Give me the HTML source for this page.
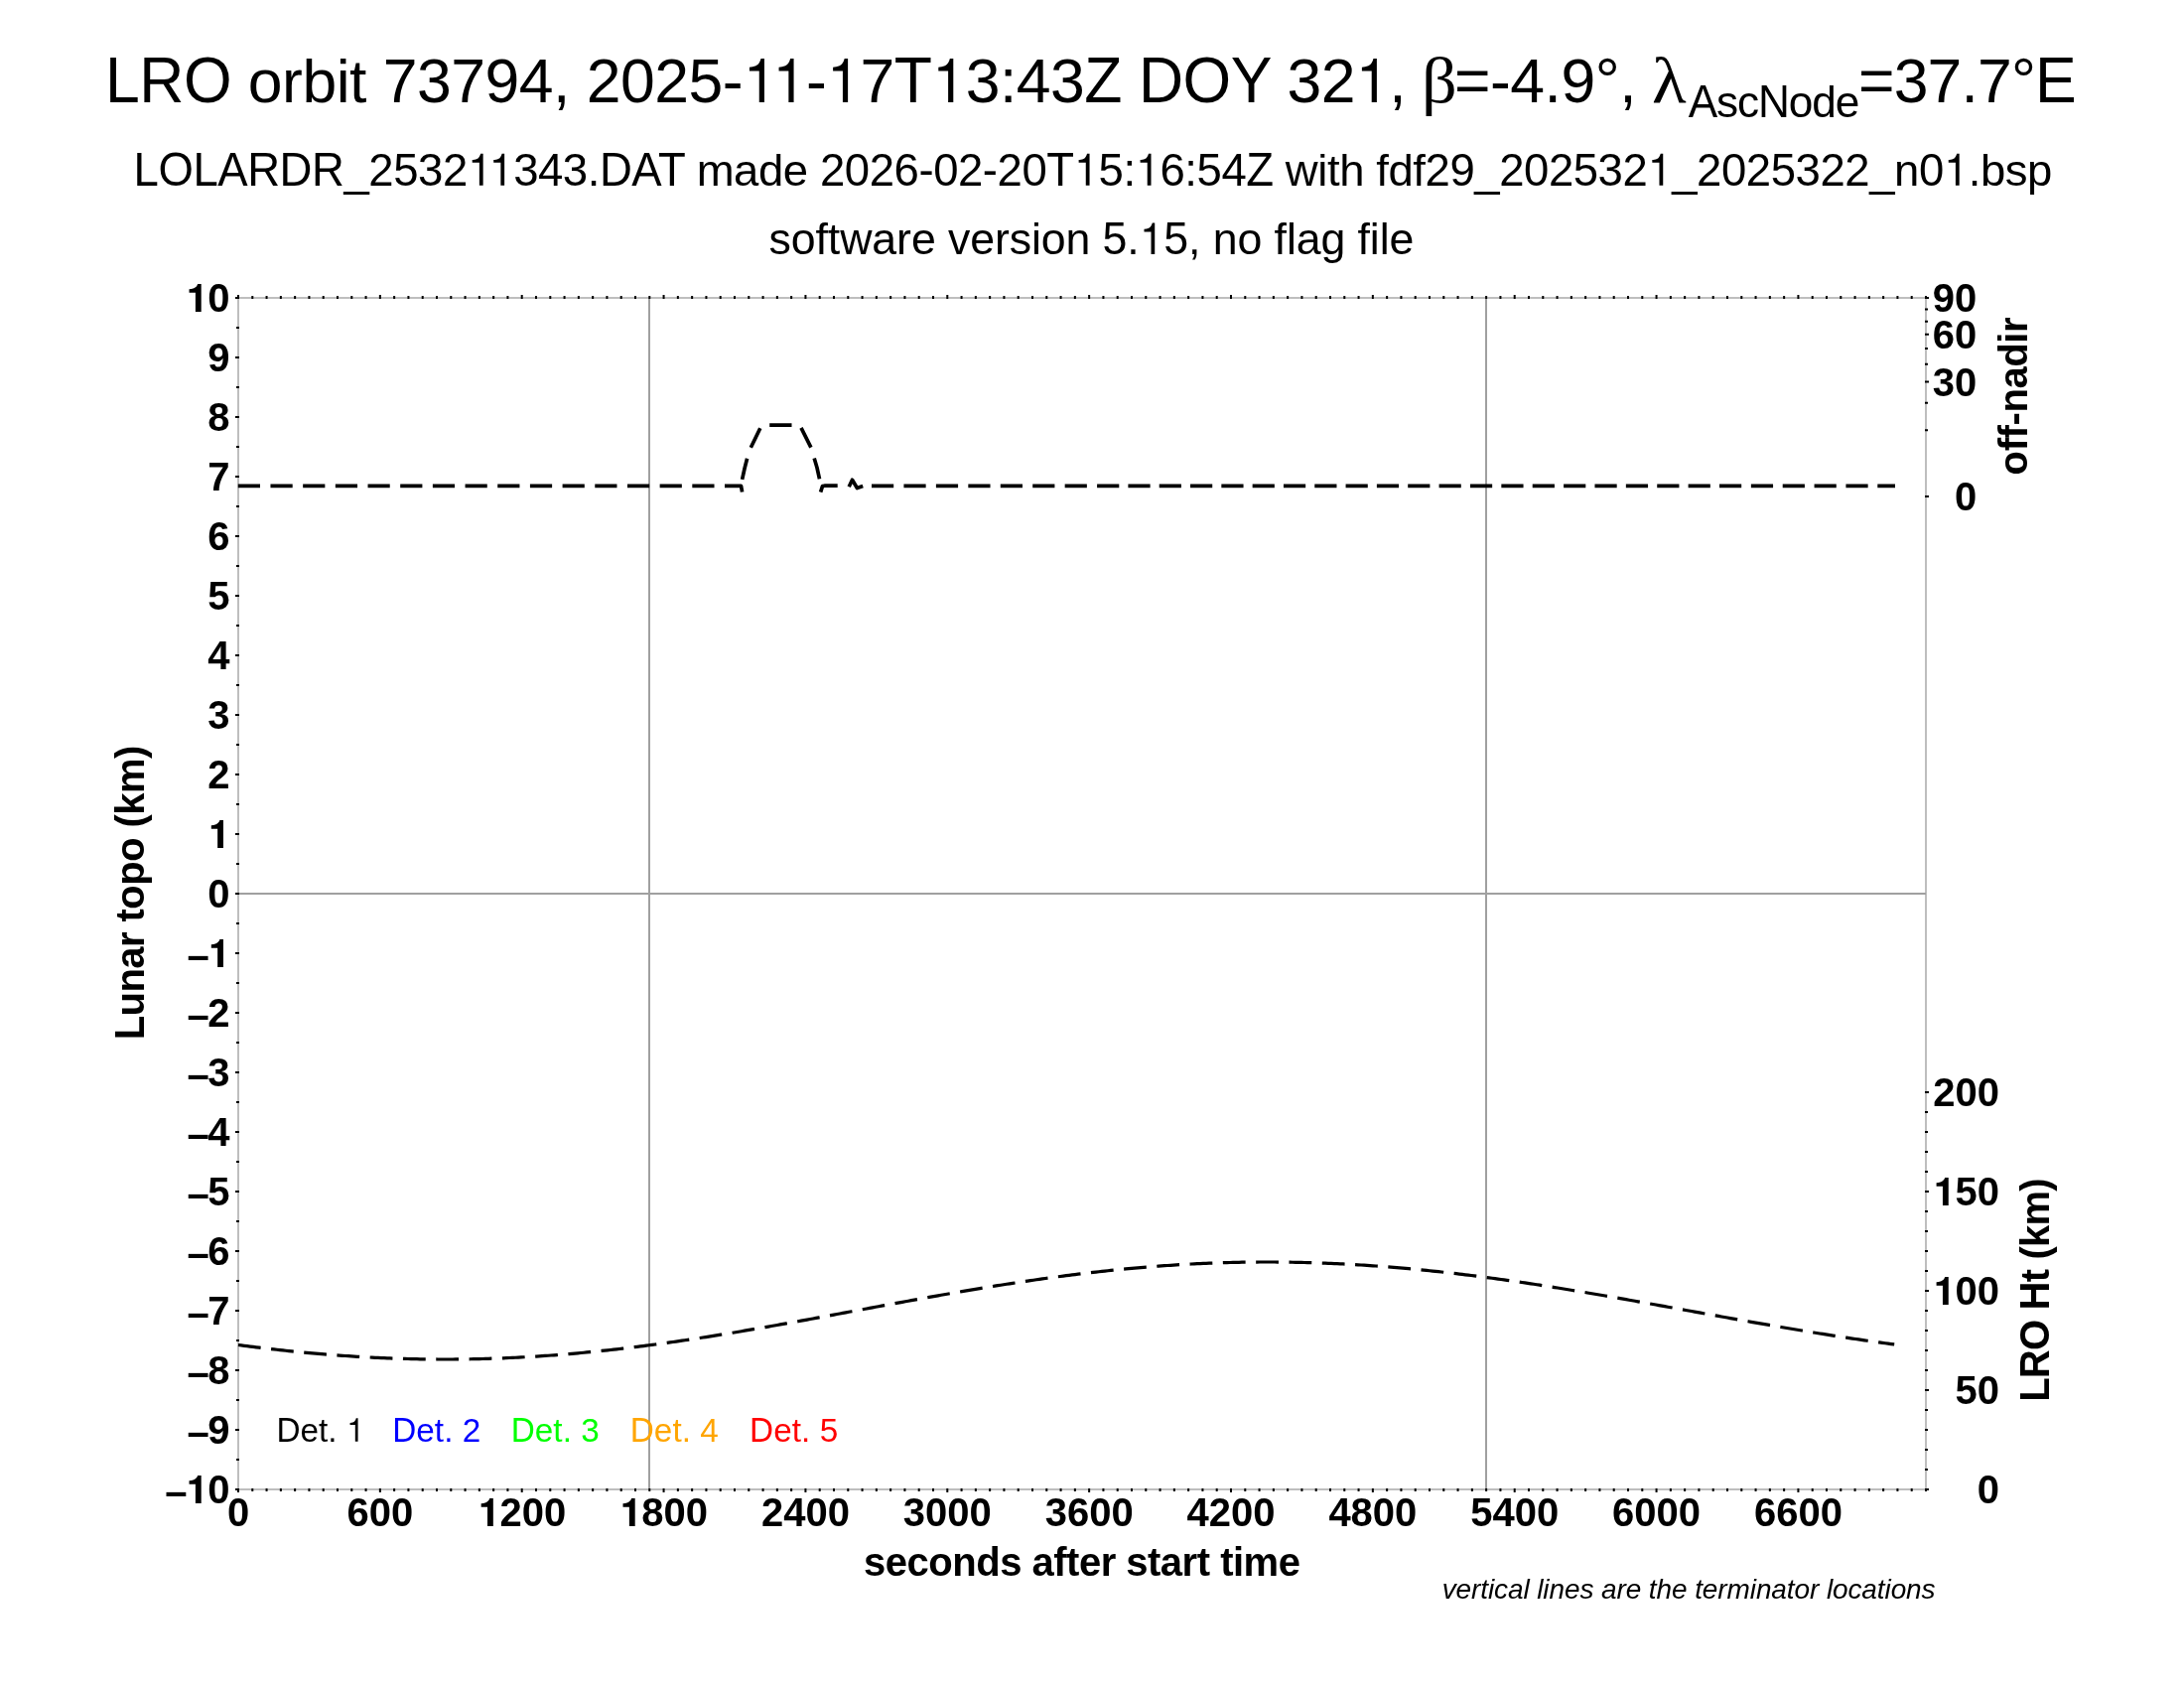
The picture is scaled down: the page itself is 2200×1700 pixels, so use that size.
<!DOCTYPE html>
<html><head><meta charset="utf-8"><style>
html,body{margin:0;padding:0;background:#fff;width:2200px;height:1700px;overflow:hidden}
svg{display:block;will-change:transform}

</style></head><body>
<svg width="2200" height="1700" viewBox="0 0 2200 1700" font-family="Liberation Sans">
<rect width="2200" height="1700" fill="#fff"/>
<g>
<text transform="translate(106.00,103.00) scale(1.0000,1.0440)" x="0.000" font-size="62.5" letter-spacing="-0.500">LRO</text><text transform="translate(106.00,103.00) scale(1.0000,0.9900)" x="143.857" font-size="62.5" letter-spacing="-0.500">orbit</text><text transform="translate(106.00,103.00) scale(1.0000,1.0200)" x="279.788" font-size="62.5" letter-spacing="-0.500">73794</text><text transform="translate(106.00,103.00)" x="451.059" font-size="62.5" letter-spacing="-0.500">,</text><text transform="translate(106.00,103.00) scale(1.0000,1.0200)" x="484.784" font-size="62.5" letter-spacing="-0.500">2025</text><text transform="translate(106.00,103.00)" x="621.807" font-size="62.5" letter-spacing="-0.500">-</text><path transform="translate(106.00,103.00) translate(642.125,0.000) scale(0.06250,-0.06250)" d="M349,0V706H294C282,660 260,610 214,589C180,574 140,568 109,566V504H266V0Z"/><path transform="translate(106.00,103.00) translate(671.740,0.000) scale(0.06250,-0.06250)" d="M349,0V706H294C282,660 260,610 214,589C180,574 140,568 109,566V504H266V0Z"/><text transform="translate(106.00,103.00)" x="705.988" font-size="62.5" letter-spacing="-0.500">-</text><path transform="translate(106.00,103.00) translate(726.306,0.000) scale(0.06250,-0.06250)" d="M349,0V706H294C282,660 260,610 214,589C180,574 140,568 109,566V504H266V0Z"/><text transform="translate(106.00,103.00) scale(1.0000,1.0200)" x="760.554" font-size="62.5" letter-spacing="-0.500">7</text><text transform="translate(106.00,103.00) scale(1.0000,1.0440)" x="794.818" font-size="62.5" letter-spacing="-0.500">T</text><path transform="translate(106.00,103.00) translate(832.483,0.000) scale(0.06250,-0.06250)" d="M349,0V706H294C282,660 260,610 214,589C180,574 140,568 109,566V504H266V0Z"/><text transform="translate(106.00,103.00) scale(1.0000,1.0200)" x="866.746" font-size="62.5" letter-spacing="-0.500">3</text><text transform="translate(106.00,103.00)" x="900.995" font-size="62.5" letter-spacing="-0.500">:</text><text transform="translate(106.00,103.00) scale(1.0000,1.0200)" x="917.865" font-size="62.5" letter-spacing="-0.500">43</text><text transform="translate(106.00,103.00) scale(1.0000,1.0440)" x="986.376" font-size="62.5" letter-spacing="-0.500">Z</text><text transform="translate(106.00,103.00) scale(1.0000,1.0440)" x="1040.912" font-size="62.5" letter-spacing="-0.500">DOY</text><text transform="translate(106.00,103.00) scale(1.0000,1.0200)" x="1190.572" font-size="62.5" letter-spacing="-0.500">32</text><path transform="translate(106.00,103.00) translate(1259.084,0.000) scale(0.06250,-0.06250)" d="M349,0V706H294C282,660 260,610 214,589C180,574 140,568 109,566V504H266V0Z"/><text transform="translate(106.00,103.00)" x="1293.332" font-size="62.5" letter-spacing="-0.500">,</text>
<text transform="translate(1432.00,103.00) scale(1.0800,1.0000)" font-size="65" font-family="Liberation Serif">β</text>
<text transform="translate(1465.00,103.00)" x="0.000" font-size="62.5" letter-spacing="-0.500">=-</text><text transform="translate(1465.00,103.00) scale(1.0000,1.0200)" x="56.305" font-size="62.5" letter-spacing="-0.500">4</text><text transform="translate(1465.00,103.00)" x="90.554" font-size="62.5" letter-spacing="-0.500">.</text><text transform="translate(1465.00,103.00) scale(1.0000,1.0200)" x="107.424" font-size="62.5" letter-spacing="-0.500">9</text><text transform="translate(1465.00,103.00)" x="141.672" font-size="62.5" letter-spacing="-0.500">°,</text>
<text transform="translate(1664.00,103.00) scale(1.1000,1.0000)" font-size="65" font-family="Liberation Serif">λ</text>
<text transform="translate(1700.70,118.40) scale(1.0000,1.0440)" x="0.000" font-size="44.2" letter-spacing="-1.100">A</text><text transform="translate(1700.70,118.40) scale(1.0000,0.9900)" x="28.356" font-size="44.2" letter-spacing="-1.100">sc</text><text transform="translate(1700.70,118.40) scale(1.0000,1.0440)" x="70.340" font-size="44.2" letter-spacing="-1.100">N</text><text transform="translate(1700.70,118.40) scale(1.0000,0.9900)" x="101.155" font-size="44.2" letter-spacing="-1.100">ode</text>
<text transform="translate(1872.00,103.00)" x="0.000" font-size="62.5" letter-spacing="-0.830">=</text><text transform="translate(1872.00,103.00) scale(1.0000,1.0200)" x="35.652" font-size="62.5" letter-spacing="-0.830">37</text><text transform="translate(1872.00,103.00)" x="103.501" font-size="62.5" letter-spacing="-0.830">.</text><text transform="translate(1872.00,103.00) scale(1.0000,1.0200)" x="120.038" font-size="62.5" letter-spacing="-0.830">7</text><text transform="translate(1872.00,103.00)" x="153.954" font-size="62.5" letter-spacing="-0.830">°</text><text transform="translate(1872.00,103.00) scale(1.0000,1.0440)" x="178.122" font-size="62.5" letter-spacing="-0.830">E</text>
<text transform="translate(1100.75,186.75) scale(1.0000,1.0440)" x="-966.200" font-size="45.5" letter-spacing="-0.430">LOLARDR</text><text transform="translate(1100.75,186.75)" x="-754.333" font-size="45.5" letter-spacing="-0.430">_</text><text transform="translate(1100.75,186.75) scale(1.0000,1.0200)" x="-729.474" font-size="45.5" letter-spacing="-0.430">2532</text><path transform="translate(1100.75,186.75) translate(-629.991,0.000) scale(0.04550,-0.04550)" d="M349,0V706H294C282,660 260,610 214,589C180,574 140,568 109,566V504H266V0Z"/><path transform="translate(1100.75,186.75) translate(-608.495,0.000) scale(0.04550,-0.04550)" d="M349,0V706H294C282,660 260,610 214,589C180,574 140,568 109,566V504H266V0Z"/><text transform="translate(1100.75,186.75) scale(1.0000,1.0200)" x="-583.621" font-size="45.5" letter-spacing="-0.430">343</text><text transform="translate(1100.75,186.75)" x="-509.012" font-size="45.5" letter-spacing="-0.430">.</text><text transform="translate(1100.75,186.75) scale(1.0000,1.0440)" x="-496.806" font-size="45.5" letter-spacing="-0.430">DAT</text><text transform="translate(1100.75,186.75) scale(1.0000,0.9900)" x="-399.113" font-size="45.5" letter-spacing="-0.430">made</text><text transform="translate(1100.75,186.75) scale(1.0000,1.0200)" x="-274.832" font-size="45.5" letter-spacing="-0.430">2026</text><text transform="translate(1100.75,186.75)" x="-175.349" font-size="45.5" letter-spacing="-0.430">-</text><text transform="translate(1100.75,186.75) scale(1.0000,1.0200)" x="-160.628" font-size="45.5" letter-spacing="-0.430">02</text><text transform="translate(1100.75,186.75)" x="-110.894" font-size="45.5" letter-spacing="-0.430">-</text><text transform="translate(1100.75,186.75) scale(1.0000,1.0200)" x="-96.173" font-size="45.5" letter-spacing="-0.430">20</text><text transform="translate(1100.75,186.75) scale(1.0000,1.0440)" x="-46.439" font-size="45.5" letter-spacing="-0.430">T</text><path transform="translate(1100.75,186.75) translate(-19.080,0.000) scale(0.04550,-0.04550)" d="M349,0V706H294C282,660 260,610 214,589C180,574 140,568 109,566V504H266V0Z"/><text transform="translate(1100.75,186.75) scale(1.0000,1.0200)" x="5.794" font-size="45.5" letter-spacing="-0.430">5</text><text transform="translate(1100.75,186.75)" x="30.669" font-size="45.5" letter-spacing="-0.430">:</text><path transform="translate(1100.75,186.75) translate(42.875,0.000) scale(0.04550,-0.04550)" d="M349,0V706H294C282,660 260,610 214,589C180,574 140,568 109,566V504H266V0Z"/><text transform="translate(1100.75,186.75) scale(1.0000,1.0200)" x="67.734" font-size="45.5" letter-spacing="-0.430">6</text><text transform="translate(1100.75,186.75)" x="92.609" font-size="45.5" letter-spacing="-0.430">:</text><text transform="translate(1100.75,186.75) scale(1.0000,1.0200)" x="104.815" font-size="45.5" letter-spacing="-0.430">54</text><text transform="translate(1100.75,186.75) scale(1.0000,1.0440)" x="154.564" font-size="45.5" letter-spacing="-0.430">Z</text><text transform="translate(1100.75,186.75) scale(1.0000,0.9900)" x="194.129" font-size="45.5" letter-spacing="-0.430">with</text><text transform="translate(1100.75,186.75) scale(1.0000,0.9900)" x="285.511" font-size="45.5" letter-spacing="-0.430">fdf</text><text transform="translate(1100.75,186.75) scale(1.0000,1.0200)" x="334.797" font-size="45.5" letter-spacing="-0.430">29</text><text transform="translate(1100.75,186.75)" x="384.531" font-size="45.5" letter-spacing="-0.430">_</text><text transform="translate(1100.75,186.75) scale(1.0000,1.0200)" x="409.406" font-size="45.5" letter-spacing="-0.430">202532</text><path transform="translate(1100.75,186.75) translate(558.623,0.000) scale(0.04550,-0.04550)" d="M349,0V706H294C282,660 260,610 214,589C180,574 140,568 109,566V504H266V0Z"/><text transform="translate(1100.75,186.75)" x="583.497" font-size="45.5" letter-spacing="-0.430">_</text><text transform="translate(1100.75,186.75) scale(1.0000,1.0200)" x="608.356" font-size="45.5" letter-spacing="-0.430">2025322</text><text transform="translate(1100.75,186.75)" x="782.448" font-size="45.5" letter-spacing="-0.430">_</text><text transform="translate(1100.75,186.75) scale(1.0000,0.9900)" x="807.323" font-size="45.5" letter-spacing="-0.430">n</text><text transform="translate(1100.75,186.75) scale(1.0000,1.0200)" x="832.182" font-size="45.5" letter-spacing="-0.430">0</text><path transform="translate(1100.75,186.75) translate(857.057,0.000) scale(0.04550,-0.04550)" d="M349,0V706H294C282,660 260,610 214,589C180,574 140,568 109,566V504H266V0Z"/><text transform="translate(1100.75,186.75)" x="881.931" font-size="45.5" letter-spacing="-0.430">.</text><text transform="translate(1100.75,186.75) scale(1.0000,0.9900)" x="894.137" font-size="45.5" letter-spacing="-0.430">bsp</text>
<text transform="translate(1099.40,256.10) scale(1.0000,0.9900)" x="-324.882" font-size="44.7" letter-spacing="-0.100">software</text><text transform="translate(1099.40,256.10) scale(1.0000,0.9900)" x="-144.490" font-size="44.7" letter-spacing="-0.100">version</text><text transform="translate(1099.40,256.10) scale(1.0000,1.0200)" x="11.167" font-size="44.7" letter-spacing="-0.100">5</text><text transform="translate(1099.40,256.10)" x="35.918" font-size="44.7" letter-spacing="-0.100">.</text><path transform="translate(1099.40,256.10) translate(48.231,0.000) scale(0.04470,-0.04470)" d="M349,0V706H294C282,660 260,610 214,589C180,574 140,568 109,566V504H266V0Z"/><text transform="translate(1099.40,256.10) scale(1.0000,1.0200)" x="72.981" font-size="44.7" letter-spacing="-0.100">5</text><text transform="translate(1099.40,256.10)" x="97.732" font-size="44.7" letter-spacing="-0.100">,</text><text transform="translate(1099.40,256.10) scale(1.0000,0.9900)" x="122.373" font-size="44.7" letter-spacing="-0.100">no</text><text transform="translate(1099.40,256.10) scale(1.0000,0.9900)" x="184.187" font-size="44.7" letter-spacing="-0.100">flag</text><text transform="translate(1099.40,256.10) scale(1.0000,0.9900)" x="268.149" font-size="44.7" letter-spacing="-0.100">file</text>
</g>
<g fill="none" stroke-width="2">
<rect x="240.0" y="300.0" width="1700.0" height="1200.0" stroke="#bebebe"/>
<path d="M240.0,900.0H1940.0M654,300.0V1500.0M1497,300.0V1500.0" stroke="#a0a0a0"/>
</g>
<path d="M240.00,1499.0v4M240.00,301.0v-4M254.29,1499.0v3M254.29,301.0v-3M268.57,1499.0v3M268.57,301.0v-3M282.86,1499.0v3M282.86,301.0v-3M297.14,1499.0v3M297.14,301.0v-3M311.43,1499.0v3M311.43,301.0v-3M325.71,1499.0v3M325.71,301.0v-3M340.00,1499.0v3M340.00,301.0v-3M354.29,1499.0v3M354.29,301.0v-3M368.57,1499.0v3M368.57,301.0v-3M382.86,1499.0v4M382.86,301.0v-4M397.14,1499.0v3M397.14,301.0v-3M411.43,1499.0v3M411.43,301.0v-3M425.71,1499.0v3M425.71,301.0v-3M440.00,1499.0v3M440.00,301.0v-3M454.29,1499.0v3M454.29,301.0v-3M468.57,1499.0v3M468.57,301.0v-3M482.86,1499.0v3M482.86,301.0v-3M497.14,1499.0v3M497.14,301.0v-3M511.43,1499.0v3M511.43,301.0v-3M525.71,1499.0v4M525.71,301.0v-4M540.00,1499.0v3M540.00,301.0v-3M554.29,1499.0v3M554.29,301.0v-3M568.57,1499.0v3M568.57,301.0v-3M582.86,1499.0v3M582.86,301.0v-3M597.14,1499.0v3M597.14,301.0v-3M611.43,1499.0v3M611.43,301.0v-3M625.71,1499.0v3M625.71,301.0v-3M640.00,1499.0v3M640.00,301.0v-3M654.29,1499.0v3M654.29,301.0v-3M668.57,1499.0v4M668.57,301.0v-4M682.86,1499.0v3M682.86,301.0v-3M697.14,1499.0v3M697.14,301.0v-3M711.43,1499.0v3M711.43,301.0v-3M725.71,1499.0v3M725.71,301.0v-3M740.00,1499.0v3M740.00,301.0v-3M754.29,1499.0v3M754.29,301.0v-3M768.57,1499.0v3M768.57,301.0v-3M782.86,1499.0v3M782.86,301.0v-3M797.14,1499.0v3M797.14,301.0v-3M811.43,1499.0v4M811.43,301.0v-4M825.71,1499.0v3M825.71,301.0v-3M840.00,1499.0v3M840.00,301.0v-3M854.29,1499.0v3M854.29,301.0v-3M868.57,1499.0v3M868.57,301.0v-3M882.86,1499.0v3M882.86,301.0v-3M897.14,1499.0v3M897.14,301.0v-3M911.43,1499.0v3M911.43,301.0v-3M925.71,1499.0v3M925.71,301.0v-3M940.00,1499.0v3M940.00,301.0v-3M954.29,1499.0v4M954.29,301.0v-4M968.57,1499.0v3M968.57,301.0v-3M982.86,1499.0v3M982.86,301.0v-3M997.14,1499.0v3M997.14,301.0v-3M1011.43,1499.0v3M1011.43,301.0v-3M1025.71,1499.0v3M1025.71,301.0v-3M1040.00,1499.0v3M1040.00,301.0v-3M1054.29,1499.0v3M1054.29,301.0v-3M1068.57,1499.0v3M1068.57,301.0v-3M1082.86,1499.0v3M1082.86,301.0v-3M1097.14,1499.0v4M1097.14,301.0v-4M1111.43,1499.0v3M1111.43,301.0v-3M1125.71,1499.0v3M1125.71,301.0v-3M1140.00,1499.0v3M1140.00,301.0v-3M1154.29,1499.0v3M1154.29,301.0v-3M1168.57,1499.0v3M1168.57,301.0v-3M1182.86,1499.0v3M1182.86,301.0v-3M1197.14,1499.0v3M1197.14,301.0v-3M1211.43,1499.0v3M1211.43,301.0v-3M1225.71,1499.0v3M1225.71,301.0v-3M1240.00,1499.0v4M1240.00,301.0v-4M1254.29,1499.0v3M1254.29,301.0v-3M1268.57,1499.0v3M1268.57,301.0v-3M1282.86,1499.0v3M1282.86,301.0v-3M1297.14,1499.0v3M1297.14,301.0v-3M1311.43,1499.0v3M1311.43,301.0v-3M1325.71,1499.0v3M1325.71,301.0v-3M1340.00,1499.0v3M1340.00,301.0v-3M1354.29,1499.0v3M1354.29,301.0v-3M1368.57,1499.0v3M1368.57,301.0v-3M1382.86,1499.0v4M1382.86,301.0v-4M1397.14,1499.0v3M1397.14,301.0v-3M1411.43,1499.0v3M1411.43,301.0v-3M1425.71,1499.0v3M1425.71,301.0v-3M1440.00,1499.0v3M1440.00,301.0v-3M1454.29,1499.0v3M1454.29,301.0v-3M1468.57,1499.0v3M1468.57,301.0v-3M1482.86,1499.0v3M1482.86,301.0v-3M1497.14,1499.0v3M1497.14,301.0v-3M1511.43,1499.0v3M1511.43,301.0v-3M1525.71,1499.0v4M1525.71,301.0v-4M1540.00,1499.0v3M1540.00,301.0v-3M1554.29,1499.0v3M1554.29,301.0v-3M1568.57,1499.0v3M1568.57,301.0v-3M1582.86,1499.0v3M1582.86,301.0v-3M1597.14,1499.0v3M1597.14,301.0v-3M1611.43,1499.0v3M1611.43,301.0v-3M1625.71,1499.0v3M1625.71,301.0v-3M1640.00,1499.0v3M1640.00,301.0v-3M1654.29,1499.0v3M1654.29,301.0v-3M1668.57,1499.0v4M1668.57,301.0v-4M1682.86,1499.0v3M1682.86,301.0v-3M1697.14,1499.0v3M1697.14,301.0v-3M1711.43,1499.0v3M1711.43,301.0v-3M1725.71,1499.0v3M1725.71,301.0v-3M1740.00,1499.0v3M1740.00,301.0v-3M1754.29,1499.0v3M1754.29,301.0v-3M1768.57,1499.0v3M1768.57,301.0v-3M1782.86,1499.0v3M1782.86,301.0v-3M1797.14,1499.0v3M1797.14,301.0v-3M1811.43,1499.0v4M1811.43,301.0v-4M1825.71,1499.0v3M1825.71,301.0v-3M1840.00,1499.0v3M1840.00,301.0v-3M1854.29,1499.0v3M1854.29,301.0v-3M1868.57,1499.0v3M1868.57,301.0v-3M1882.86,1499.0v3M1882.86,301.0v-3M1897.14,1499.0v3M1897.14,301.0v-3M1911.43,1499.0v3M1911.43,301.0v-3M1925.71,1499.0v3M1925.71,301.0v-3M1940.00,1499.0v3M1940.00,301.0v-3M241.0,1500.00h-4M241.0,1470.00h-3M241.0,1440.00h-4M241.0,1410.00h-3M241.0,1380.00h-4M241.0,1350.00h-3M241.0,1320.00h-4M241.0,1290.00h-3M241.0,1260.00h-4M241.0,1230.00h-3M241.0,1200.00h-4M241.0,1170.00h-3M241.0,1140.00h-4M241.0,1110.00h-3M241.0,1080.00h-4M241.0,1050.00h-3M241.0,1020.00h-4M241.0,990.00h-3M241.0,960.00h-4M241.0,930.00h-3M241.0,900.00h-4M241.0,870.00h-3M241.0,840.00h-4M241.0,810.00h-3M241.0,780.00h-4M241.0,750.00h-3M241.0,720.00h-4M241.0,690.00h-3M241.0,660.00h-4M241.0,630.00h-3M241.0,600.00h-4M241.0,570.00h-3M241.0,540.00h-4M241.0,510.00h-3M241.0,480.00h-4M241.0,450.00h-3M241.0,420.00h-4M241.0,390.00h-3M241.0,360.00h-4M241.0,330.00h-3M241.0,300.00h-4M1939.0,500.00h4M1939.0,433.34h3M1939.0,405.73h3M1939.0,384.54h4M1939.0,366.68h3M1939.0,350.94h3M1939.0,336.72h4M1939.0,323.63h3M1939.0,311.45h3M1939.0,300.02h4M1939.0,1500.00h4M1939.0,1480.00h3M1939.0,1460.00h3M1939.0,1440.00h3M1939.0,1420.00h3M1939.0,1400.00h4M1939.0,1380.00h3M1939.0,1360.00h3M1939.0,1340.00h3M1939.0,1320.00h3M1939.0,1300.00h4M1939.0,1280.00h3M1939.0,1260.00h3M1939.0,1240.00h3M1939.0,1220.00h3M1939.0,1200.00h4M1939.0,1180.00h3M1939.0,1160.00h3M1939.0,1140.00h3M1939.0,1120.00h3M1939.0,1100.00h4" stroke="#000" stroke-width="2" fill="none"/>
<g font-weight="bold">
<path transform="translate(231.60,1514.00) translate(-44.500,0.000) scale(0.04000,-0.04000)" d="M390,0V700H301C285,648 250,612 206,595C165,580 120,572 86,570V480H245V0Z"/><text transform="translate(231.60,1514.00) scale(1.0000,1.0300)" x="-22.266" font-size="40" font-weight="bold">0</text>
<rect x="167.51" y="1502.85" width="19.8" height="4.15"/>
<text transform="translate(231.60,1454.00) scale(1.0000,1.0300)" x="-22.250" font-size="40" font-weight="bold">9</text>
<rect x="189.75" y="1442.85" width="19.8" height="4.15"/>
<text transform="translate(231.60,1394.00) scale(1.0000,1.0300)" x="-22.250" font-size="40" font-weight="bold">8</text>
<rect x="189.75" y="1382.85" width="19.8" height="4.15"/>
<text transform="translate(231.60,1334.00) scale(1.0000,1.0300)" x="-22.250" font-size="40" font-weight="bold">7</text>
<rect x="189.75" y="1322.85" width="19.8" height="4.15"/>
<text transform="translate(231.60,1274.00) scale(1.0000,1.0300)" x="-22.250" font-size="40" font-weight="bold">6</text>
<rect x="189.75" y="1262.85" width="19.8" height="4.15"/>
<text transform="translate(231.60,1214.00) scale(1.0000,1.0300)" x="-22.250" font-size="40" font-weight="bold">5</text>
<rect x="189.75" y="1202.85" width="19.8" height="4.15"/>
<text transform="translate(231.60,1154.00) scale(1.0000,1.0300)" x="-22.250" font-size="40" font-weight="bold">4</text>
<rect x="189.75" y="1142.85" width="19.8" height="4.15"/>
<text transform="translate(231.60,1094.00) scale(1.0000,1.0300)" x="-22.250" font-size="40" font-weight="bold">3</text>
<rect x="189.75" y="1082.85" width="19.8" height="4.15"/>
<text transform="translate(231.60,1034.00) scale(1.0000,1.0300)" x="-22.250" font-size="40" font-weight="bold">2</text>
<rect x="189.75" y="1022.85" width="19.8" height="4.15"/>
<path transform="translate(231.60,974.00) translate(-22.250,0.000) scale(0.04000,-0.04000)" d="M390,0V700H301C285,648 250,612 206,595C165,580 120,572 86,570V480H245V0Z"/>
<rect x="189.75" y="962.85" width="19.8" height="4.15"/>
<text transform="translate(231.60,914.00) scale(1.0000,1.0300)" x="-22.250" font-size="40" font-weight="bold">0</text>
<path transform="translate(231.60,854.00) translate(-22.250,0.000) scale(0.04000,-0.04000)" d="M390,0V700H301C285,648 250,612 206,595C165,580 120,572 86,570V480H245V0Z"/>
<text transform="translate(231.60,794.00) scale(1.0000,1.0300)" x="-22.250" font-size="40" font-weight="bold">2</text>
<text transform="translate(231.60,734.00) scale(1.0000,1.0300)" x="-22.250" font-size="40" font-weight="bold">3</text>
<text transform="translate(231.60,674.00) scale(1.0000,1.0300)" x="-22.250" font-size="40" font-weight="bold">4</text>
<text transform="translate(231.60,614.00) scale(1.0000,1.0300)" x="-22.250" font-size="40" font-weight="bold">5</text>
<text transform="translate(231.60,554.00) scale(1.0000,1.0300)" x="-22.250" font-size="40" font-weight="bold">6</text>
<text transform="translate(231.60,494.00) scale(1.0000,1.0300)" x="-22.250" font-size="40" font-weight="bold">7</text>
<text transform="translate(231.60,434.00) scale(1.0000,1.0300)" x="-22.250" font-size="40" font-weight="bold">8</text>
<text transform="translate(231.60,374.00) scale(1.0000,1.0300)" x="-22.250" font-size="40" font-weight="bold">9</text>
<path transform="translate(231.60,314.00) translate(-44.500,0.000) scale(0.04000,-0.04000)" d="M390,0V700H301C285,648 250,612 206,595C165,580 120,572 86,570V480H245V0Z"/><text transform="translate(231.60,314.00) scale(1.0000,1.0300)" x="-22.266" font-size="40" font-weight="bold">0</text>
<text transform="translate(240.00,1537.00) scale(1.0000,1.0300)" x="-11.125" font-size="40" font-weight="bold">0</text>
<text transform="translate(382.86,1537.00) scale(1.0000,1.0300)" x="-33.375" font-size="40" font-weight="bold">600</text>
<path transform="translate(525.71,1537.00) translate(-44.492,0.000) scale(0.04000,-0.04000)" d="M390,0V700H301C285,648 250,612 206,595C165,580 120,572 86,570V480H245V0Z"/><text transform="translate(525.71,1537.00) scale(1.0000,1.0300)" x="-22.258" font-size="40" font-weight="bold">200</text>
<path transform="translate(668.57,1537.00) translate(-44.492,0.000) scale(0.04000,-0.04000)" d="M390,0V700H301C285,648 250,612 206,595C165,580 120,572 86,570V480H245V0Z"/><text transform="translate(668.57,1537.00) scale(1.0000,1.0300)" x="-22.258" font-size="40" font-weight="bold">800</text>
<text transform="translate(811.43,1537.00) scale(1.0000,1.0300)" x="-44.492" font-size="40" font-weight="bold">2400</text>
<text transform="translate(954.29,1537.00) scale(1.0000,1.0300)" x="-44.492" font-size="40" font-weight="bold">3000</text>
<text transform="translate(1097.14,1537.00) scale(1.0000,1.0300)" x="-44.492" font-size="40" font-weight="bold">3600</text>
<text transform="translate(1240.00,1537.00) scale(1.0000,1.0300)" x="-44.492" font-size="40" font-weight="bold">4200</text>
<text transform="translate(1382.86,1537.00) scale(1.0000,1.0300)" x="-44.492" font-size="40" font-weight="bold">4800</text>
<text transform="translate(1525.71,1537.00) scale(1.0000,1.0300)" x="-44.492" font-size="40" font-weight="bold">5400</text>
<text transform="translate(1668.57,1537.00) scale(1.0000,1.0300)" x="-44.492" font-size="40" font-weight="bold">6000</text>
<text transform="translate(1811.43,1537.00) scale(1.0000,1.0300)" x="-44.492" font-size="40" font-weight="bold">6600</text>
<text transform="translate(1991.30,514.00) scale(1.0000,1.0300)" x="-22.250" font-size="40" font-weight="bold">0</text>
<text transform="translate(1991.30,398.54) scale(1.0000,1.0300)" x="-44.500" font-size="40" font-weight="bold">30</text>
<text transform="translate(1991.30,350.72) scale(1.0000,1.0300)" x="-44.500" font-size="40" font-weight="bold">60</text>
<text transform="translate(1991.30,314.02) scale(1.0000,1.0300)" x="-44.500" font-size="40" font-weight="bold">90</text>
<text transform="translate(2013.90,1514.00) scale(1.0000,1.0300)" x="-22.250" font-size="40" font-weight="bold">0</text>
<text transform="translate(2013.90,1414.00) scale(1.0000,1.0300)" x="-44.500" font-size="40" font-weight="bold">50</text>
<path transform="translate(2013.90,1314.00) translate(-66.750,0.000) scale(0.04000,-0.04000)" d="M390,0V700H301C285,648 250,612 206,595C165,580 120,572 86,570V480H245V0Z"/><text transform="translate(2013.90,1314.00) scale(1.0000,1.0300)" x="-44.516" font-size="40" font-weight="bold">00</text>
<path transform="translate(2013.90,1214.00) translate(-66.750,0.000) scale(0.04000,-0.04000)" d="M390,0V700H301C285,648 250,612 206,595C165,580 120,572 86,570V480H245V0Z"/><text transform="translate(2013.90,1214.00) scale(1.0000,1.0300)" x="-44.516" font-size="40" font-weight="bold">50</text>
<text transform="translate(2013.90,1114.00) scale(1.0000,1.0300)" x="-66.750" font-size="40" font-weight="bold">200</text>
<text transform="translate(1089.75,1587.00)" x="-219.641" font-size="40" font-weight="bold" letter-spacing="-0.500">seconds</text><text transform="translate(1089.75,1587.00)" x="-50.250" font-size="40" font-weight="bold" letter-spacing="-0.500">after</text><text transform="translate(1089.75,1587.00)" x="44.562" font-size="40" font-weight="bold" letter-spacing="-0.500">start</text><text transform="translate(1089.75,1587.00)" x="139.375" font-size="40" font-weight="bold" letter-spacing="-0.500">time</text>
<text transform="translate(144.50,899.25) rotate(-90) scale(1.0000,1.0440)" x="-148.086" font-size="40" font-weight="bold" letter-spacing="-0.550">L</text><text transform="translate(144.50,899.25) rotate(-90)" x="-124.211" font-size="40" font-weight="bold" letter-spacing="-0.550">unar</text><text transform="translate(144.50,899.25) rotate(-90)" x="-29.164" font-size="40" font-weight="bold" letter-spacing="-0.550">topo</text><text transform="translate(144.50,899.25) rotate(-90)" x="65.820" font-size="40" font-weight="bold" letter-spacing="-0.550">(</text><text transform="translate(144.50,899.25) rotate(-90)" x="78.586" font-size="40" font-weight="bold" letter-spacing="-0.550">km</text><text transform="translate(144.50,899.25) rotate(-90)" x="135.305" font-size="40" font-weight="bold" letter-spacing="-0.550">)</text>
<text transform="translate(2042.40,399.10) rotate(-90)" x="-79.297" font-size="40" font-weight="bold" letter-spacing="-0.400">off</text><text transform="translate(2042.40,399.10) rotate(-90)" x="-29.438" font-size="40" font-weight="bold" letter-spacing="-0.400">-</text><text transform="translate(2042.40,399.10) rotate(-90)" x="-16.516" font-size="40" font-weight="bold" letter-spacing="-0.400">nadir</text>
<text transform="translate(2064.20,1299.50) rotate(-90) scale(1.0000,1.0440)" x="-112.266" font-size="40" font-weight="bold" letter-spacing="-0.800">LRO</text><text transform="translate(2064.20,1299.50) rotate(-90) scale(1.0000,1.0440)" x="-19.922" font-size="40" font-weight="bold" letter-spacing="-0.800">H</text><text transform="translate(2064.20,1299.50) rotate(-90)" x="8.156" font-size="40" font-weight="bold" letter-spacing="-0.800">t</text><text transform="translate(2064.20,1299.50) rotate(-90)" x="31.000" font-size="40" font-weight="bold" letter-spacing="-0.800">(</text><text transform="translate(2064.20,1299.50) rotate(-90)" x="43.516" font-size="40" font-weight="bold" letter-spacing="-0.800">km</text><text transform="translate(2064.20,1299.50) rotate(-90)" x="99.734" font-size="40" font-weight="bold" letter-spacing="-0.800">)</text>
</g>
<text transform="translate(278.40,1451.80) scale(1.0000,1.0440)" x="0.000" font-size="33.3" letter-spacing="0.050" fill="#000000">D</text><text transform="translate(278.40,1451.80) scale(1.0000,0.9900)" x="24.086" font-size="33.3" letter-spacing="0.050" fill="#000000">et</text><text transform="translate(278.40,1451.80)" x="51.947" font-size="33.3" letter-spacing="0.050" fill="#000000">.</text><path transform="translate(278.40,1451.80) translate(70.541,0.000) scale(0.03330,-0.03330)" d="M349,0V706H294C282,660 260,610 214,589C180,574 140,568 109,566V504H266V0Z" fill="#000000"/>
<text transform="translate(395.20,1451.80) scale(1.0000,1.0440)" x="0.000" font-size="33.3" letter-spacing="0.050" fill="#0000ff">D</text><text transform="translate(395.20,1451.80) scale(1.0000,0.9900)" x="24.086" font-size="33.3" letter-spacing="0.050" fill="#0000ff">et</text><text transform="translate(395.20,1451.80)" x="51.947" font-size="33.3" letter-spacing="0.050" fill="#0000ff">.</text><text transform="translate(395.20,1451.80) scale(1.0000,1.0200)" x="70.541" font-size="33.3" letter-spacing="0.050" fill="#0000ff">2</text>
<text transform="translate(514.70,1451.80) scale(1.0000,1.0440)" x="0.000" font-size="33.3" letter-spacing="0.050" fill="#00ff00">D</text><text transform="translate(514.70,1451.80) scale(1.0000,0.9900)" x="24.086" font-size="33.3" letter-spacing="0.050" fill="#00ff00">et</text><text transform="translate(514.70,1451.80)" x="51.947" font-size="33.3" letter-spacing="0.050" fill="#00ff00">.</text><text transform="translate(514.70,1451.80) scale(1.0000,1.0200)" x="70.541" font-size="33.3" letter-spacing="0.050" fill="#00ff00">3</text>
<text transform="translate(634.80,1451.80) scale(1.0000,1.0440)" x="0.000" font-size="33.3" letter-spacing="0.050" fill="#ffa500">D</text><text transform="translate(634.80,1451.80) scale(1.0000,0.9900)" x="24.086" font-size="33.3" letter-spacing="0.050" fill="#ffa500">et</text><text transform="translate(634.80,1451.80)" x="51.947" font-size="33.3" letter-spacing="0.050" fill="#ffa500">.</text><text transform="translate(634.80,1451.80) scale(1.0000,1.0200)" x="70.541" font-size="33.3" letter-spacing="0.050" fill="#ffa500">4</text>
<text transform="translate(755.10,1451.80) scale(1.0000,1.0440)" x="0.000" font-size="33.3" letter-spacing="0.050" fill="#ff0000">D</text><text transform="translate(755.10,1451.80) scale(1.0000,0.9900)" x="24.086" font-size="33.3" letter-spacing="0.050" fill="#ff0000">et</text><text transform="translate(755.10,1451.80)" x="51.947" font-size="33.3" letter-spacing="0.050" fill="#ff0000">.</text><text transform="translate(755.10,1451.80) scale(1.0000,1.0200)" x="70.541" font-size="33.3" letter-spacing="0.050" fill="#ff0000">5</text>
<text transform="translate(1949.50,1609.70)" font-size="28" text-anchor="end" font-style="italic" letter-spacing="-0.100">vertical lines are the terminator locations</text>
<path d="M240.00,1354.52 L243.00,1354.91 L246.00,1355.30 L249.00,1355.68 L252.00,1356.06 L255.00,1356.44 L258.00,1356.81 L261.00,1357.18 L264.00,1357.54 L267.00,1357.89 L270.00,1358.24 L273.00,1358.59 L276.00,1358.93 L279.00,1359.27 L282.00,1359.60 L285.00,1359.92 L288.00,1360.24 L291.00,1360.56 L294.00,1360.87 L297.00,1361.18 L300.00,1361.48 L303.00,1361.77 L306.00,1362.06 L309.00,1362.34 L312.00,1362.62 L315.00,1362.89 L318.00,1363.16 L321.00,1363.42 L324.00,1363.68 L327.00,1363.93 L330.00,1364.17 L333.00,1364.41 L336.00,1364.64 L339.00,1364.87 L342.00,1365.09 L345.00,1365.31 L348.00,1365.52 L351.00,1365.72 L354.00,1365.92 L357.00,1366.11 L360.00,1366.29 L363.00,1366.47 L366.00,1366.65 L369.00,1366.82 L372.00,1366.98 L375.00,1367.13 L378.00,1367.28 L381.00,1367.43 L384.00,1367.56 L387.00,1367.69 L390.00,1367.82 L393.00,1367.94 L396.00,1368.05 L399.00,1368.16 L402.00,1368.26 L405.00,1368.35 L408.00,1368.44 L411.00,1368.52 L414.00,1368.59 L417.00,1368.66 L420.00,1368.72 L423.00,1368.78 L426.00,1368.83 L429.00,1368.87 L432.00,1368.91 L435.00,1368.94 L438.00,1368.96 L441.00,1368.98 L444.00,1368.99 L447.00,1369.00 L450.00,1369.00 L453.00,1368.99 L456.00,1368.98 L459.00,1368.96 L462.00,1368.93 L465.00,1368.90 L468.00,1368.86 L471.00,1368.81 L474.00,1368.76 L477.00,1368.70 L480.00,1368.64 L483.00,1368.57 L486.00,1368.49 L489.00,1368.41 L492.00,1368.32 L495.00,1368.22 L498.00,1368.12 L501.00,1368.01 L504.00,1367.90 L507.00,1367.78 L510.00,1367.65 L513.00,1367.52 L516.00,1367.38 L519.00,1367.23 L522.00,1367.08 L525.00,1366.92 L528.00,1366.76 L531.00,1366.59 L534.00,1366.41 L537.00,1366.23 L540.00,1366.04 L543.00,1365.85 L546.00,1365.65 L549.00,1365.45 L552.00,1365.23 L555.00,1365.02 L558.00,1364.79 L561.00,1364.56 L564.00,1364.33 L567.00,1364.09 L570.00,1363.84 L573.00,1363.59 L576.00,1363.33 L579.00,1363.07 L582.00,1362.80 L585.00,1362.53 L588.00,1362.25 L591.00,1361.96 L594.00,1361.67 L597.00,1361.38 L600.00,1361.07 L603.00,1360.77 L606.00,1360.46 L609.00,1360.14 L612.00,1359.82 L615.00,1359.49 L618.00,1359.16 L621.00,1358.82 L624.00,1358.47 L627.00,1358.13 L630.00,1357.77 L633.00,1357.42 L636.00,1357.05 L639.00,1356.69 L642.00,1356.31 L645.00,1355.94 L648.00,1355.56 L651.00,1355.17 L654.00,1354.78 L657.00,1354.38 L660.00,1353.98 L663.00,1353.58 L666.00,1353.17 L669.00,1352.76 L672.00,1352.34 L675.00,1351.92 L678.00,1351.50 L681.00,1351.07 L684.00,1350.63 L687.00,1350.20 L690.00,1349.76 L693.00,1349.31 L696.00,1348.86 L699.00,1348.41 L702.00,1347.95 L705.00,1347.49 L708.00,1347.03 L711.00,1346.56 L714.00,1346.09 L717.00,1345.62 L720.00,1345.14 L723.00,1344.66 L726.00,1344.18 L729.00,1343.69 L732.00,1343.20 L735.00,1342.71 L738.00,1342.21 L741.00,1341.71 L744.00,1341.21 L747.00,1340.71 L750.00,1340.20 L753.00,1339.69 L756.00,1339.18 L759.00,1338.67 L762.00,1338.15 L765.00,1337.63 L768.00,1337.11 L771.00,1336.58 L774.00,1336.06 L777.00,1335.53 L780.00,1335.00 L783.00,1334.47 L786.00,1333.93 L789.00,1333.40 L792.00,1332.86 L795.00,1332.32 L798.00,1331.78 L801.00,1331.24 L804.00,1330.70 L807.00,1330.15 L810.00,1329.61 L813.00,1329.06 L816.00,1328.51 L819.00,1327.96 L822.00,1327.41 L825.00,1326.86 L828.00,1326.30 L831.00,1325.75 L834.00,1325.20 L837.00,1324.64 L840.00,1324.09 L843.00,1323.53 L846.00,1322.97 L849.00,1322.42 L852.00,1321.86 L855.00,1321.30 L858.00,1320.74 L861.00,1320.19 L864.00,1319.63 L867.00,1319.07 L870.00,1318.51 L873.00,1317.96 L876.00,1317.40 L879.00,1316.84 L882.00,1316.29 L885.00,1315.73 L888.00,1315.17 L891.00,1314.62 L894.00,1314.07 L897.00,1313.51 L900.00,1312.96 L903.00,1312.41 L906.00,1311.86 L909.00,1311.31 L912.00,1310.76 L915.00,1310.21 L918.00,1309.67 L921.00,1309.12 L924.00,1308.58 L927.00,1308.04 L930.00,1307.50 L933.00,1306.96 L936.00,1306.42 L939.00,1305.89 L942.00,1305.35 L945.00,1304.82 L948.00,1304.29 L951.00,1303.77 L954.00,1303.24 L957.00,1302.72 L960.00,1302.20 L963.00,1301.68 L966.00,1301.16 L969.00,1300.65 L972.00,1300.14 L975.00,1299.63 L978.00,1299.12 L981.00,1298.62 L984.00,1298.12 L987.00,1297.62 L990.00,1297.13 L993.00,1296.64 L996.00,1296.15 L999.00,1295.66 L1002.00,1295.18 L1005.00,1294.70 L1008.00,1294.22 L1011.00,1293.75 L1014.00,1293.28 L1017.00,1292.82 L1020.00,1292.35 L1023.00,1291.89 L1026.00,1291.44 L1029.00,1290.99 L1032.00,1290.54 L1035.00,1290.10 L1038.00,1289.66 L1041.00,1289.22 L1044.00,1288.79 L1047.00,1288.36 L1050.00,1287.94 L1053.00,1287.52 L1056.00,1287.10 L1059.00,1286.69 L1062.00,1286.28 L1065.00,1285.88 L1068.00,1285.48 L1071.00,1285.09 L1074.00,1284.70 L1077.00,1284.32 L1080.00,1283.94 L1083.00,1283.56 L1086.00,1283.19 L1089.00,1282.82 L1092.00,1282.46 L1095.00,1282.11 L1098.00,1281.76 L1101.00,1281.41 L1104.00,1281.07 L1107.00,1280.73 L1110.00,1280.40 L1113.00,1280.08 L1116.00,1279.76 L1119.00,1279.44 L1122.00,1279.13 L1125.00,1278.82 L1128.00,1278.52 L1131.00,1278.23 L1134.00,1277.94 L1137.00,1277.66 L1140.00,1277.38 L1143.00,1277.11 L1146.00,1276.84 L1149.00,1276.58 L1152.00,1276.32 L1155.00,1276.07 L1158.00,1275.83 L1161.00,1275.59 L1164.00,1275.36 L1167.00,1275.13 L1170.00,1274.91 L1173.00,1274.69 L1176.00,1274.48 L1179.00,1274.28 L1182.00,1274.08 L1185.00,1273.89 L1188.00,1273.71 L1191.00,1273.53 L1194.00,1273.35 L1197.00,1273.18 L1200.00,1273.02 L1203.00,1272.87 L1206.00,1272.72 L1209.00,1272.57 L1212.00,1272.44 L1215.00,1272.31 L1218.00,1272.18 L1221.00,1272.06 L1224.00,1271.95 L1227.00,1271.84 L1230.00,1271.74 L1233.00,1271.65 L1236.00,1271.56 L1239.00,1271.48 L1242.00,1271.41 L1245.00,1271.34 L1248.00,1271.28 L1251.00,1271.22 L1254.00,1271.17 L1257.00,1271.13 L1260.00,1271.09 L1263.00,1271.06 L1266.00,1271.04 L1269.00,1271.02 L1272.00,1271.01 L1275.00,1271.00 L1278.00,1271.00 L1281.00,1271.01 L1284.00,1271.02 L1287.00,1271.04 L1290.00,1271.07 L1293.00,1271.10 L1296.00,1271.13 L1299.00,1271.18 L1302.00,1271.23 L1305.00,1271.28 L1308.00,1271.34 L1311.00,1271.41 L1314.00,1271.48 L1317.00,1271.56 L1320.00,1271.65 L1323.00,1271.74 L1326.00,1271.83 L1329.00,1271.94 L1332.00,1272.05 L1335.00,1272.16 L1338.00,1272.28 L1341.00,1272.41 L1344.00,1272.54 L1347.00,1272.68 L1350.00,1272.82 L1353.00,1272.97 L1356.00,1273.13 L1359.00,1273.29 L1362.00,1273.45 L1365.00,1273.63 L1368.00,1273.81 L1371.00,1273.99 L1374.00,1274.18 L1377.00,1274.37 L1380.00,1274.58 L1383.00,1274.78 L1386.00,1274.99 L1389.00,1275.21 L1392.00,1275.43 L1395.00,1275.66 L1398.00,1275.90 L1401.00,1276.14 L1404.00,1276.38 L1407.00,1276.63 L1410.00,1276.89 L1413.00,1277.15 L1416.00,1277.41 L1419.00,1277.69 L1422.00,1277.96 L1425.00,1278.24 L1428.00,1278.53 L1431.00,1278.82 L1434.00,1279.12 L1437.00,1279.42 L1440.00,1279.73 L1443.00,1280.04 L1446.00,1280.36 L1449.00,1280.68 L1452.00,1281.01 L1455.00,1281.34 L1458.00,1281.67 L1461.00,1282.02 L1464.00,1282.36 L1467.00,1282.71 L1470.00,1283.07 L1473.00,1283.42 L1476.00,1283.79 L1479.00,1284.16 L1482.00,1284.53 L1485.00,1284.91 L1488.00,1285.29 L1491.00,1285.67 L1494.00,1286.06 L1497.00,1286.46 L1500.00,1286.86 L1503.00,1287.26 L1506.00,1287.66 L1509.00,1288.07 L1512.00,1288.49 L1515.00,1288.91 L1518.00,1289.33 L1521.00,1289.75 L1524.00,1290.18 L1527.00,1290.62 L1530.00,1291.05 L1533.00,1291.49 L1536.00,1291.94 L1539.00,1292.38 L1542.00,1292.83 L1545.00,1293.29 L1548.00,1293.74 L1551.00,1294.20 L1554.00,1294.67 L1557.00,1295.13 L1560.00,1295.60 L1563.00,1296.08 L1566.00,1296.55 L1569.00,1297.03 L1572.00,1297.51 L1575.00,1298.00 L1578.00,1298.48 L1581.00,1298.97 L1584.00,1299.47 L1587.00,1299.96 L1590.00,1300.46 L1593.00,1300.96 L1596.00,1301.46 L1599.00,1301.96 L1602.00,1302.47 L1605.00,1302.98 L1608.00,1303.49 L1611.00,1304.00 L1614.00,1304.51 L1617.00,1305.03 L1620.00,1305.55 L1623.00,1306.07 L1626.00,1306.59 L1629.00,1307.11 L1632.00,1307.64 L1635.00,1308.17 L1638.00,1308.69 L1641.00,1309.22 L1644.00,1309.75 L1647.00,1310.29 L1650.00,1310.82 L1653.00,1311.35 L1656.00,1311.89 L1659.00,1312.42 L1662.00,1312.96 L1665.00,1313.50 L1668.00,1314.04 L1671.00,1314.58 L1674.00,1315.12 L1677.00,1315.66 L1680.00,1316.20 L1683.00,1316.74 L1686.00,1317.28 L1689.00,1317.83 L1692.00,1318.37 L1695.00,1318.91 L1698.00,1319.46 L1701.00,1320.00 L1704.00,1320.54 L1707.00,1321.09 L1710.00,1321.63 L1713.00,1322.17 L1716.00,1322.72 L1719.00,1323.26 L1722.00,1323.80 L1725.00,1324.34 L1728.00,1324.88 L1731.00,1325.42 L1734.00,1325.96 L1737.00,1326.50 L1740.00,1327.04 L1743.00,1327.58 L1746.00,1328.11 L1749.00,1328.65 L1752.00,1329.18 L1755.00,1329.71 L1758.00,1330.25 L1761.00,1330.78 L1764.00,1331.31 L1767.00,1331.83 L1770.00,1332.36 L1773.00,1332.89 L1776.00,1333.41 L1779.00,1333.93 L1782.00,1334.45 L1785.00,1334.97 L1788.00,1335.49 L1791.00,1336.00 L1794.00,1336.51 L1797.00,1337.02 L1800.00,1337.53 L1803.00,1338.04 L1806.00,1338.54 L1809.00,1339.04 L1812.00,1339.54 L1815.00,1340.04 L1818.00,1340.53 L1821.00,1341.03 L1824.00,1341.52 L1827.00,1342.00 L1830.00,1342.49 L1833.00,1342.97 L1836.00,1343.45 L1839.00,1343.92 L1842.00,1344.40 L1845.00,1344.87 L1848.00,1345.33 L1851.00,1345.80 L1854.00,1346.26 L1857.00,1346.71 L1860.00,1347.17 L1863.00,1347.62 L1866.00,1348.06 L1869.00,1348.51 L1872.00,1348.95 L1875.00,1349.38 L1878.00,1349.82 L1881.00,1350.25 L1884.00,1350.67 L1887.00,1351.09 L1890.00,1351.51 L1893.00,1351.93 L1896.00,1352.34 L1899.00,1352.74 L1902.00,1353.14 L1905.00,1353.54 L1908.00,1353.94 L1908.20,1353.96" fill="none" stroke="#000" stroke-width="3.2" stroke-dasharray="22.8 10.52"/>
<path d="M239.80,489.4H262.00M272.48,489.4H294.68M305.16,489.4H327.36M337.84,489.4H360.04M370.52,489.4H392.72M403.20,489.4H425.40M435.88,489.4H458.08M468.56,489.4H490.76M501.24,489.4H523.44M533.92,489.4H556.12M566.60,489.4H588.80M599.28,489.4H621.48M631.96,489.4H654.16M664.64,489.4H686.84M697.32,489.4H719.52M878.00,489.4H900.20M910.44,489.4H932.64M942.89,489.4H965.09M975.33,489.4H997.53M1007.77,489.4H1029.97M1040.21,489.4H1062.41M1072.66,489.4H1094.86M1105.10,489.4H1127.30M1136.41,489.4H1158.61M1167.72,489.4H1189.92M1199.03,489.4H1221.23M1230.34,489.4H1252.54M1261.65,489.4H1283.85M1292.96,489.4H1315.16M1324.27,489.4H1346.47M1355.58,489.4H1377.78M1386.89,489.4H1409.09M1418.20,489.4H1440.40M1449.58,489.4H1471.78M1480.96,489.4H1503.16M1512.34,489.4H1534.54M1543.72,489.4H1565.92M1575.10,489.4H1597.30M1606.48,489.4H1628.68M1637.86,489.4H1660.06M1669.24,489.4H1691.44M1700.62,489.4H1722.82M1732.00,489.4H1754.20M1763.86,489.4H1786.06M1795.72,489.4H1817.92M1827.58,489.4H1849.78M1859.44,489.4H1881.64M1891.30,489.4H1909.00M730,489.4H746.5L747.6,495.5M747.6,482.9L750.0,472.0L752.6,461.8M756.3,450.7L765.8,431.3M775.2,428.2L797.5,428.2M807.0,430.9L816.9,450.7M820.2,461.4L823.0,471.0L825.5,482.4M826.6,495.6L828.5,489.6L830.5,489.2L843.7,489.2M855.2,490.3L858.5,483.3L863.4,491.5L869.2,489.4" fill="none" stroke="#000" stroke-width="3.7" stroke-linejoin="round"/>
</svg>
</body></html>
